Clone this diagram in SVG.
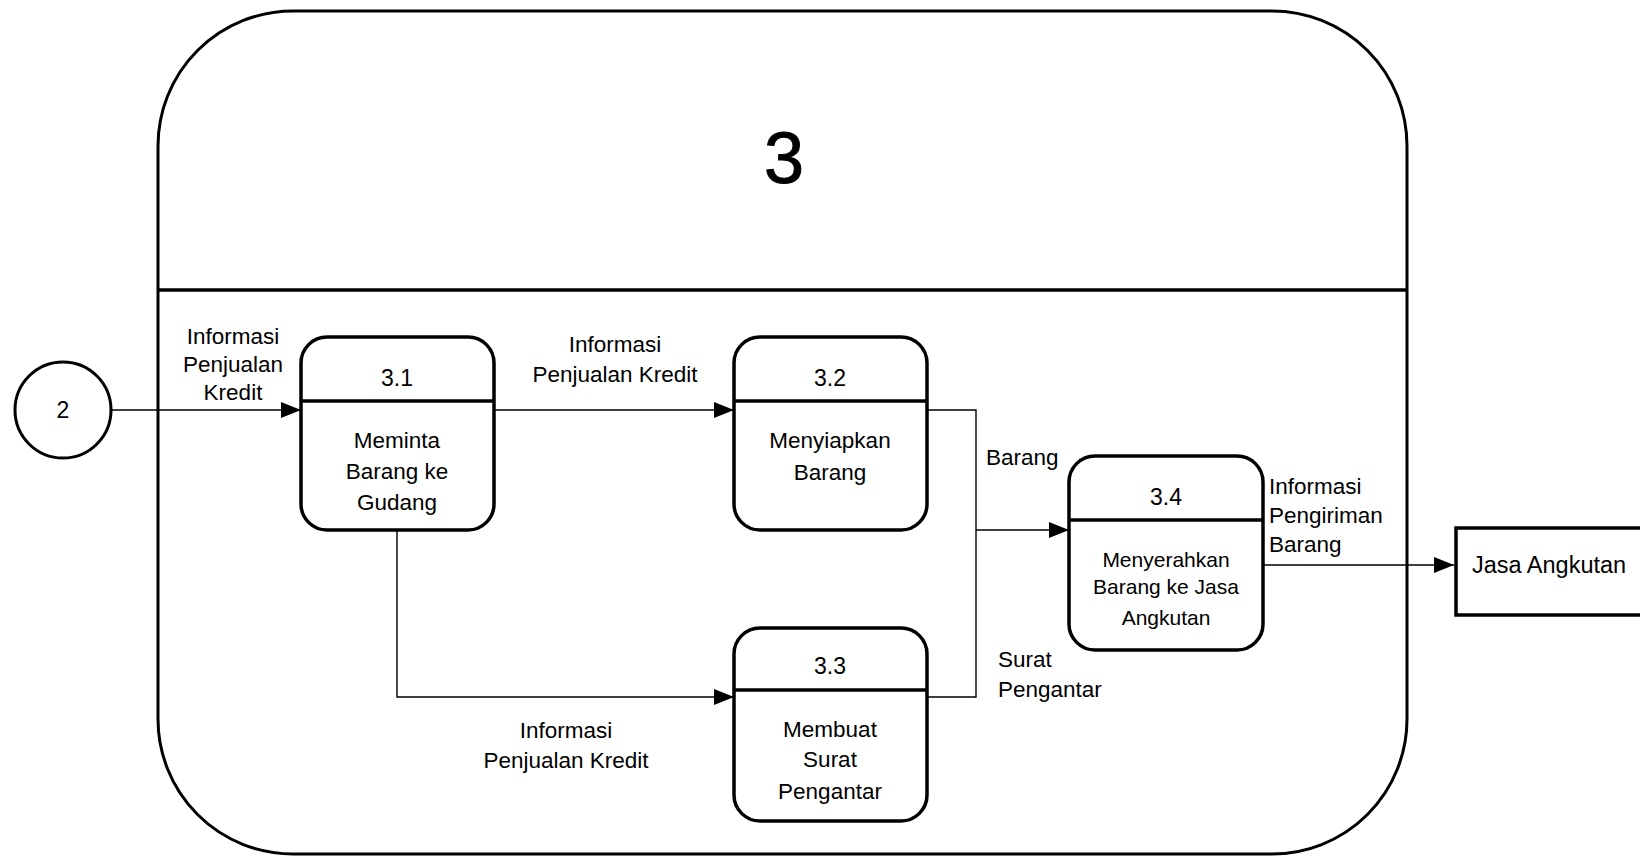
<svg xmlns="http://www.w3.org/2000/svg" width="1640" height="858" viewBox="0 0 1640 858">
  <style>
    text { font-family: "Liberation Sans", Arial, sans-serif; fill: #000; }
    .lbl { font-size: 22.5px; }
    .num { font-size: 23px; text-anchor: middle; }
    .body { font-size: 22.5px; text-anchor: middle; }
    .small { font-size: 21px; text-anchor: middle; }
    .proc { fill: #fff; stroke: #000; stroke-width: 3.5; }
    .sep { stroke: #000; stroke-width: 3.5; }
    .flow { fill: none; stroke: #000; stroke-width: 1.4; }
  </style>
  <defs>
    <marker id="arrow" markerUnits="userSpaceOnUse" markerWidth="22" markerHeight="16" refX="20" refY="8" orient="auto">
      <path d="M0,0 L20,8 L0,16 Z" fill="#000"/>
    </marker>
  </defs>
  <rect width="1640" height="858" fill="#fff"/>

  <!-- Process 3 frame -->
  <g id="process-3">
    <rect x="158" y="11" width="1249" height="843" rx="135" ry="135" fill="none" stroke="#000" stroke-width="3"/>
    <line x1="158" y1="290" x2="1407" y2="290" stroke="#000" stroke-width="3.5"/>
    <text x="784" y="183" font-size="72" text-anchor="middle" stroke="#000" stroke-width="1">3</text>
  </g>

  <!-- Connectors -->
  <g id="connectors">
    <path class="flow" d="M111,410 H301" marker-end="url(#arrow)"/>
    <path class="flow" d="M494,410 H734" marker-end="url(#arrow)"/>
    <path class="flow" d="M397,530 V697 H734" marker-end="url(#arrow)"/>
    <path class="flow" d="M927,410 H976 V697 H927"/>
    <path class="flow" d="M976,530 H1069" marker-end="url(#arrow)"/>
    <path class="flow" d="M1263,565 H1454" marker-end="url(#arrow)"/>
  </g>

  <!-- Flow labels -->
  <g id="labels">
    <text class="lbl" x="233" y="344" text-anchor="middle">Informasi</text>
    <text class="lbl" x="233" y="372" text-anchor="middle">Penjualan</text>
    <text class="lbl" x="233" y="400" text-anchor="middle">Kredit</text>
    <text class="lbl" x="615" y="352" text-anchor="middle">Informasi</text>
    <text class="lbl" x="615" y="382" text-anchor="middle">Penjualan Kredit</text>
    <text class="lbl" x="566" y="738" text-anchor="middle">Informasi</text>
    <text class="lbl" x="566" y="768" text-anchor="middle">Penjualan Kredit</text>
    <text class="lbl" x="986" y="465">Barang</text>
    <text class="lbl" x="998" y="667">Surat</text>
    <text class="lbl" x="998" y="697">Pengantar</text>
    <text class="lbl" x="1269" y="494">Informasi</text>
    <text class="lbl" x="1269" y="523">Pengiriman</text>
    <text class="lbl" x="1269" y="552">Barang</text>
  </g>

  <!-- External entity / connector 2 -->
  <g id="node-2">
    <circle cx="63" cy="410" r="48" fill="#fff" stroke="#000" stroke-width="3"/>
    <text class="num" x="63" y="418">2</text>
  </g>

  <g id="node-3-1">
    <rect class="proc" x="301" y="337" width="193" height="193" rx="26"/>
    <line class="sep" x1="301" y1="401" x2="494" y2="401"/>
    <text class="num" x="397" y="386">3.1</text>
    <text class="body" x="397" y="448">Meminta</text>
    <text class="body" x="397" y="479">Barang ke</text>
    <text class="body" x="397" y="510">Gudang</text>
  </g>

  <g id="node-3-2">
    <rect class="proc" x="734" y="337" width="193" height="193" rx="26"/>
    <line class="sep" x1="734" y1="401" x2="927" y2="401"/>
    <text class="num" x="830" y="386">3.2</text>
    <text class="body" x="830" y="448">Menyiapkan</text>
    <text class="body" x="830" y="480">Barang</text>
  </g>

  <g id="node-3-3">
    <rect class="proc" x="734" y="628" width="193" height="193" rx="26"/>
    <line class="sep" x1="734" y1="690" x2="927" y2="690"/>
    <text class="num" x="830" y="674">3.3</text>
    <text class="body" x="830" y="737">Membuat</text>
    <text class="body" x="830" y="767">Surat</text>
    <text class="body" x="830" y="799">Pengantar</text>
  </g>

  <g id="node-3-4">
    <rect class="proc" x="1069" y="456" width="194" height="194" rx="26"/>
    <line class="sep" x1="1069" y1="520" x2="1263" y2="520"/>
    <text class="num" x="1166" y="505">3.4</text>
    <text class="small" x="1166" y="567">Menyerahkan</text>
    <text class="small" x="1166" y="594">Barang ke Jasa</text>
    <text class="small" x="1166" y="625">Angkutan</text>
  </g>

  <g id="node-jasa-angkutan">
    <rect x="1456" y="528" width="200" height="87" fill="#fff" stroke="#000" stroke-width="3.5"/>
    <text x="1472" y="573" font-size="23.5">Jasa Angkutan</text>
  </g>
</svg>
